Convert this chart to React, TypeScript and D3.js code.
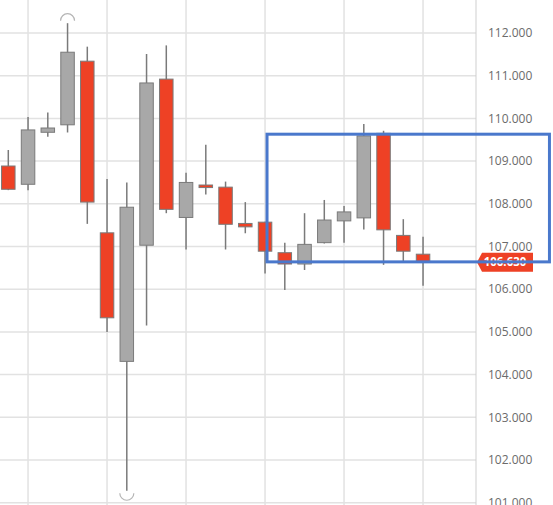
import { useMemo } from "react";
import * as d3 from "d3";

const W = 553, H = 505;
const AXIS_X = 476;

// candle data, left to right
const opens = [108.885, 108.457, 109.675, 109.85, 111.34, 107.32, 104.31, 107.03, 110.92, 107.68, 108.44, 108.39, 107.54, 107.57, 106.855, 106.59, 107.09, 107.6, 107.67, 109.65, 107.26, 106.82];
const closes = [108.34, 109.73, 109.775, 111.55, 108.04, 105.33, 107.92, 110.83, 107.87, 108.5, 108.38, 107.52, 107.46, 106.89, 106.59, 107.05, 107.62, 107.81, 109.59, 107.39, 106.89, 106.63];
const highs = [109.26, 110.03, 110.14, 112.23, 111.68, 108.58, 108.5, 111.51, 111.71, 108.73, 109.38, 108.52, 108.04, 107.58, 107.09, 107.78, 108.09, 107.95, 109.87, 109.71, 107.64, 107.23];
const lows = [108.32, 108.32, 109.57, 109.67, 107.53, 105.0, 101.28, 105.15, 107.78, 106.93, 108.22, 106.93, 107.31, 106.37, 105.98, 106.45, 107.07, 107.09, 107.4, 106.57, 106.64, 106.08];

const yTicks = [112, 111, 110, 109, 108, 107, 106, 105, 104, 103, 102, 101];
const gridIdx = [1, 5, 9, 13, 17, 21];
const lastPrice = 106.63;

// drawn rectangle annotation (index / price units)
const boxX = [13.1, 27.4];
const boxY = [109.63, 106.64];

const RED = "#EE4125";
const GREY = "#A8A8A8";

export default function App() {
  const x = useMemo(() => d3.scaleLinear([0, 21], [8.3, 423.05]), []);
  const y = useMemo(() => d3.scaleLinear([112, 101], [33, 502.7]), []);
  const bw = 13.5;
  const hiIdx = d3.maxIndex(highs);
  const loIdx = d3.minIndex(lows);
  const arcUp = d3.arc()({ innerRadius: 7, outerRadius: 7, startAngle: -Math.PI / 2, endAngle: Math.PI / 2 }) ?? "";
  const arcDown = d3.arc()({ innerRadius: 7, outerRadius: 7, startAngle: Math.PI / 2, endAngle: Math.PI * 1.5 }) ?? "";
  const ly = y(lastPrice);

  return (
    <svg width={W} height={H} style={{ position: "absolute", left: 0, top: 0, background: "#fff" }}>
      {/* grid */}
      {yTicks.map((t) => (
        <line key={t} x1={0} x2={AXIS_X} y1={y(t)} y2={y(t)} stroke="#E2E2E2" strokeWidth={1.5} />
      ))}
      {gridIdx.map((i) => (
        <line key={i} x1={x(i)} x2={x(i)} y1={0} y2={H} stroke="#E2E2E2" strokeWidth={1.5} />
      ))}
      <line x1={AXIS_X} x2={AXIS_X} y1={0} y2={H} stroke="#CFCFCF" strokeWidth={1} />

      {/* candles */}
      {opens.map((o, i) => {
        const c = closes[i];
        const up = c >= o;
        const top = y(Math.max(o, c));
        const bot = y(Math.min(o, c));
        return (
          <g key={i}>
            <line x1={x(i)} x2={x(i)} y1={y(highs[i])} y2={y(lows[i])} stroke="#7A7A7A" strokeWidth={1.5} />
            <rect x={x(i) - bw / 2} y={top} width={bw} height={Math.max(bot - top, 2)}
              fill={up ? GREY : RED} stroke="#7A7A7A" strokeWidth={1} />
          </g>
        );
      })}

      {/* high / low markers */}
      <path d={arcUp} transform={`translate(${x(hiIdx)},${y(highs[hiIdx]) - 2.5})`} fill="none" stroke="#B5B5B5" strokeWidth={1.2} />
      <path d={arcDown} transform={`translate(${x(loIdx)},${y(lows[loIdx]) + 2.5})`} fill="none" stroke="#B5B5B5" strokeWidth={1.2} />

      {/* y axis labels */}
      {yTicks.map((t) => (
        <text key={t} x={488} y={y(t)} dy="0.35em" fontFamily="'Open Sans', sans-serif" fontSize={12} fill="#6B6B6B">
          {t.toFixed(3)}
        </text>
      ))}

      {/* last price tag */}
      <path d={`M${AXIS_X + 1},${ly} L${AXIS_X + 6},${ly - 9.5} L533,${ly - 9.5} L533,${ly + 9.5} L${AXIS_X + 6},${ly + 9.5} Z`} fill={RED} />
      <text x={505} y={ly} dy="0.36em" textAnchor="middle" fontFamily="'Open Sans', sans-serif" fontSize={11.5} fontWeight={700} fill="#fff">
        {lastPrice.toFixed(3)}
      </text>

      {/* annotation box */}
      <rect x={x(boxX[0])} y={y(boxY[0])} width={x(boxX[1]) - x(boxX[0])} height={y(boxY[1]) - y(boxY[0])}
        fill="none" stroke="#4A78CC" strokeWidth={3} />
    </svg>
  );
}
